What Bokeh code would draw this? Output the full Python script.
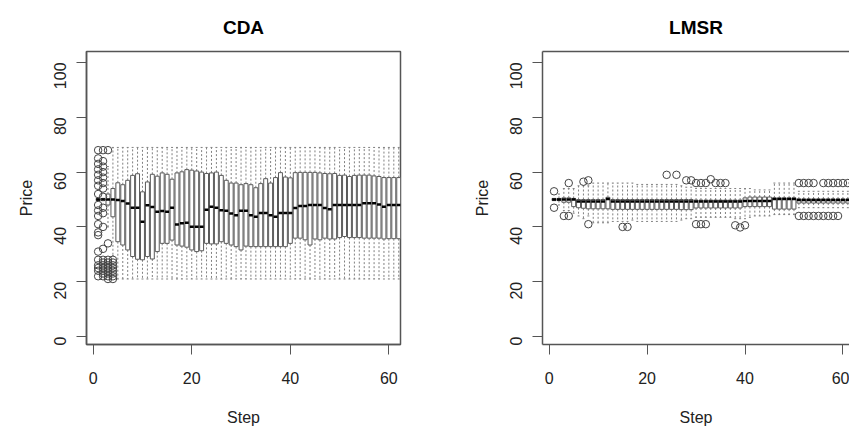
import math
import numpy as np
from bokeh.plotting import figure
from bokeh.layouts import row
from bokeh.models import FixedTicker, LinearAxis, Range1d
from bokeh.embed import file_html
from bokeh.resources import INLINE

steps = list(range(1, 63))

# ---------------- CDA ----------------
cda_q1 = [49.6, 49.6, 48.0, 43.7, 34.6, 33.4, 31.6, 29.2, 28.2, 28.0,
          29.2, 28.3, 31.0, 34.0, 34.0, 35.2, 33.4, 33.0, 32.6, 31.6,
          31.0, 31.3, 34.0, 33.8, 33.8, 34.6, 34.0, 33.4, 32.8, 31.6,
          33.0, 32.8, 32.8, 32.8, 32.8, 32.8, 32.8, 32.8, 32.8, 34.0,
          35.9, 35.9, 35.3, 33.4, 35.6, 35.3, 35.9, 35.6, 35.6, 36.1,
          36.5, 36.1, 36.1, 36.1, 35.9, 35.9, 35.9, 35.9, 35.6, 35.7,
          35.7, 35.7]
cda_med = [50.0, 50.0, 50.0, 50.0, 49.8, 49.5, 48.5, 47.0, 47.0, 41.9,
           47.9, 47.3, 45.5, 45.8, 45.5, 47.0, 40.9, 41.3, 41.5, 40.1,
           40.1, 40.1, 46.3, 47.4, 47.0, 46.1, 45.9, 44.9, 44.3, 45.9,
           45.9, 44.3, 43.7, 45.1, 45.1, 44.3, 43.7, 45.1, 45.1, 45.1,
           46.9, 47.6, 47.6, 48.0, 48.0, 48.0, 46.9, 46.4, 48.0, 48.0,
           48.0, 48.0, 48.0, 48.0, 48.6, 48.6, 48.6, 48.2, 47.4, 48.0,
           48.0, 48.0]
cda_q3 = [50.4, 50.4, 52.0, 54.0, 56.1, 55.4, 57.0, 58.8, 59.4, 52.8,
          56.4, 59.2, 58.5, 59.7, 59.2, 57.4, 59.7, 60.1, 60.9, 60.7,
          60.4, 60.0, 59.5, 59.7, 60.0, 58.8, 57.0, 56.0, 56.0, 55.4,
          55.8, 55.4, 54.3, 55.8, 57.6, 56.0, 58.0, 59.8, 58.2, 57.9,
          59.8, 59.9, 59.9, 59.9, 59.9, 59.7, 59.5, 59.4, 59.5, 58.8,
          58.9, 58.4, 58.8, 58.9, 58.9, 58.9, 58.6, 58.4, 58.0, 58.0,
          58.0, 58.0]
cda_wlo = [49.6, 49.6, 40.0, 29.5] + [21.0] * 58
cda_whi = [50.4, 50.4, 62.0, 69.0] + [69.0] * 58
cda_out_step = ([1] * 20 + [2] * 19 + [3] * 10 + [4] * 8)
cda_out_val = ([68, 65, 63, 61, 59, 57, 55, 52, 48, 46, 44, 41, 38, 37, 31, 28, 26, 25, 24, 22] +
               [68, 64, 62, 60, 58, 56, 54, 51, 47, 45, 40, 32, 28, 27, 26, 25, 24, 23, 22] +
               [68, 34, 28, 27, 26, 25, 24, 23, 22, 21] +
               [28, 27, 26, 25, 24, 23, 22, 21])

# ---------------- LMSR ----------------
lmsr_q1 = [49.6, 49.6, 49.0, 49.0, 47.4, 47.0, 46.8, 46.6, 46.6, 46.6,
           46.6, 46.6, 46.4, 46.4, 46.4, 46.4, 46.4, 46.4, 46.4, 46.4,
           46.4, 46.4, 46.4, 46.4, 46.4, 46.4, 46.3, 46.3, 46.3, 46.9,
           46.9, 46.9, 46.9, 46.9, 46.9, 46.9, 46.9, 46.9, 46.9, 47.4,
           47.4, 47.4, 47.4, 47.4, 47.4, 46.5, 46.5, 46.5, 46.5, 46.5,
           48.7, 48.7, 48.7, 48.7, 48.7, 48.7, 48.7, 48.7, 48.7, 48.7,
           48.7, 48.7]
lmsr_med = [50.0, 50.0, 50.0, 50.0, 50.0, 49.3, 49.3, 49.3, 49.3, 49.3,
            49.3, 50.2, 49.3, 49.3, 49.3, 49.3, 49.3, 49.3, 49.3, 49.3,
            49.3, 49.3, 49.3, 49.3, 49.3, 49.3, 49.3, 49.3, 49.3, 49.3,
            49.3, 49.3, 49.3, 49.3, 49.3, 49.3, 49.3, 49.3, 49.3, 49.5,
            49.5, 49.5, 49.5, 49.5, 49.5, 50.2, 50.2, 50.2, 50.2, 50.2,
            49.8, 49.8, 49.8, 49.8, 49.8, 49.8, 49.8, 49.8, 49.8, 49.8,
            49.8, 49.8]
lmsr_q3 = [50.4, 50.4, 50.6, 50.6, 50.4, 50.0, 50.0, 50.0, 50.0, 50.0,
           50.0, 50.8, 50.0, 50.0, 50.0, 50.0, 50.0, 50.0, 50.0, 50.0,
           50.0, 50.0, 50.0, 50.0, 50.0, 50.0, 50.0, 50.0, 50.0, 49.8,
           49.8, 49.8, 49.8, 49.8, 49.8, 49.8, 49.8, 49.8, 49.8, 50.6,
           50.9, 50.9, 50.9, 50.9, 50.9, 50.6, 50.6, 50.6, 50.6, 50.6,
           50.2, 50.2, 50.2, 50.2, 50.2, 50.2, 50.2, 50.2, 50.2, 50.2,
           50.2, 50.2]
lmsr_wlo = [50.0, 48.0, 46.0, 46.0, 45.0, 44.0, 43.0, 44.0, 41.5, 41.5,
            41.5, 41.5, 42.0, 42.0, 42.0, 42.0, 42.5, 42.0, 42.0, 42.0,
            42.0, 42.0, 42.0, 42.0, 42.0, 42.0, 42.5, 43.0, 43.0, 43.5,
            43.5, 43.5, 43.5, 43.5, 43.5, 43.5, 43.5, 43.0, 43.0, 43.0,
            43.5, 44.0, 44.0, 44.0, 44.0, 44.5, 44.5, 44.5, 44.5, 44.5,
            47.0, 47.0, 47.0, 47.0, 47.0, 47.0, 47.0, 47.0, 47.0, 47.0,
            47.0, 47.0]
lmsr_whi = [50.0, 52.0, 54.0, 54.0, 54.0, 55.0, 55.0, 55.0, 56.0, 56.0,
            56.0, 56.0, 56.0, 56.0, 56.0, 56.0, 56.0, 55.5, 55.5, 55.5,
            55.5, 55.5, 55.5, 55.5, 55.5, 55.5, 55.0, 54.5, 54.5, 54.0,
            54.0, 54.0, 54.0, 54.0, 54.0, 54.0, 54.0, 54.0, 54.0, 54.0,
            54.0, 53.5, 53.5, 53.5, 53.5, 56.0, 56.0, 56.0, 56.0, 56.0,
            53.0, 53.0, 53.0, 53.0, 53.0, 53.0, 53.0, 53.0, 53.0, 53.0,
            53.0, 53.0]
lmsr_out_step = [1, 1, 3, 4, 4, 7, 8, 8, 15, 16, 24, 26, 28, 29,
                 30, 30, 31, 31, 32, 32, 33, 34, 35, 36, 38, 39, 40,
                 51, 51, 52, 52, 53, 53, 54, 54, 55, 56, 56, 57, 57,
                 58, 58, 59, 59, 60, 61, 62]
lmsr_out_val = [53, 47, 44, 44, 56, 56.5, 57, 41, 40, 40, 59, 59, 57, 57,
                56, 41, 56, 41, 56, 41, 57.4, 56, 56, 56, 40.6, 39.8, 40.6,
                56, 44, 56, 44, 56, 44, 56, 44, 44, 56, 44, 56, 44,
                56, 44, 56, 44, 56, 56, 56]

x_ticks = [0, 20, 40, 60]
y_ticks = [0, 20, 40, 60, 80, 100]

FONT = "Liberation Sans"
FRAME = "#555555"
BOXC = "#5a5a5a"
WHISK = "#808080"
Y0, Y1 = -2.9, 104.0
X0 = -1.36


def panel(title, q1, med, q3, wlo, whi, ostep, oval, width, x1, mb_left, mb_right, outline):
    p = figure(width=width, height=428, output_backend="svg", toolbar_location=None,
               x_range=Range1d(X0, x1), y_range=Range1d(Y0, Y1),
               min_border_left=mb_left, min_border_right=mb_right,
               min_border_top=51, min_border_bottom=83)
    p.background_fill_color = "white"
    p.border_fill_color = "white"
    p.xgrid.visible = False
    p.ygrid.visible = False
    p.outline_line_color = FRAME if outline else None
    p.outline_line_width = 1.5

    s = np.array(steps, dtype=float)
    bw = 0.8
    # whiskers
    p.segment(x0=s, y0=q3, x1=s, y1=whi, line_color=WHISK, line_dash="2 2", line_width=1)
    p.segment(x0=s, y0=q1, x1=s, y1=wlo, line_color=WHISK, line_dash="2 2", line_width=1)
    # staples
    p.segment(x0=s - bw / 4, y0=whi, x1=s + bw / 4, y1=whi, line_color=WHISK, line_width=1)
    p.segment(x0=s - bw / 4, y0=wlo, x1=s + bw / 4, y1=wlo, line_color=WHISK, line_width=1)
    # boxes
    p.vbar(x=s, width=bw, bottom=q1, top=q3, fill_color="white", line_color=BOXC, line_width=1)
    # medians
    p.segment(x0=s - bw / 2, y0=med, x1=s + bw / 2, y1=med, line_color="black", line_width=2.5)
    # outliers
    p.scatter(x=ostep, y=oval, marker="circle", size=7.5, fill_color=None,
              line_color="#444444", line_width=1)

    p.title.text = title
    p.title.align = "center"
    p.title.text_font = FONT
    p.title.text_font_size = "19px"
    p.title.text_font_style = "bold"
    p.title.text_color = "black"
    p.title.standoff = 28

    xb = p.xaxis[0]
    yl = p.yaxis[0]
    for ax in (xb, yl):
        ax.axis_line_color = FRAME
        ax.axis_line_width = 1.5
        ax.major_tick_line_color = FRAME
        ax.major_tick_line_width = 1
        ax.major_tick_out = 10
        ax.major_tick_in = 0
        ax.minor_tick_line_color = None
        ax.major_label_text_font = FONT
        ax.major_label_text_font_size = "16px"
        ax.major_label_text_color = "#222222"
        ax.axis_label_text_font = FONT
        ax.axis_label_text_font_size = "16px"
        ax.axis_label_text_font_style = "normal"
        ax.axis_label_text_color = "#222222"

    xb.ticker = FixedTicker(ticks=x_ticks)
    yl.ticker = FixedTicker(ticks=y_ticks)
    xb.axis_label = "Step"
    yl.axis_label = "Price"
    xb.major_label_standoff = 17
    xb.axis_label_standoff = 22
    yl.major_label_orientation = math.pi / 2
    yl.major_label_standoff = 16
    yl.axis_label_standoff = 11

    if not outline:
        top_axis = LinearAxis(major_tick_line_color=None, minor_tick_line_color=None,
                              major_label_text_font_size="0px", major_label_standoff=0,
                              major_tick_out=0, major_tick_in=0,
                              axis_line_color=FRAME, axis_line_width=1.5,
                              ticker=FixedTicker(ticks=[]))
        p.add_layout(top_axis, "above")
    return p


left = panel("CDA", cda_q1, cda_med, cda_q3, cda_wlo, cda_whi, cda_out_step, cda_out_val,
             width=470, x1=62.36, mb_left=86, mb_right=70, outline=True)
right = panel("LMSR", lmsr_q1, lmsr_med, lmsr_q3, lmsr_wlo, lmsr_whi, lmsr_out_step, lmsr_out_val,
              width=379, x1=61.34, mb_left=70, mb_right=0, outline=False)

layout = row(left, right, spacing=0)
open("out.html", "w").write(file_html(layout, INLINE))
